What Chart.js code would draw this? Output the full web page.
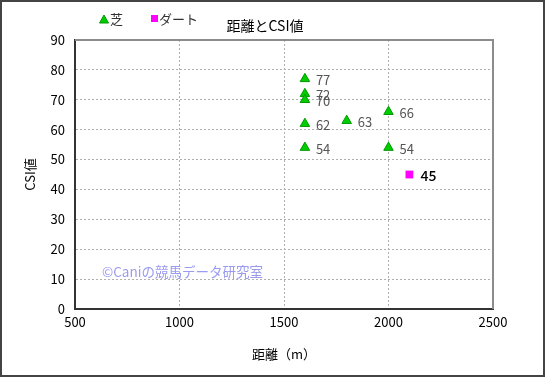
<!DOCTYPE html>
<html>
<head>
<meta charset="utf-8">
<script src="https://cdn.jsdelivr.net/npm/chart.js@4.4.0/dist/chart.umd.min.js"></script>
<style>
  html, body { margin: 0; padding: 0; background: #fff; }
  #wrap { width: 545px; height: 377px; box-sizing: border-box; border: 2px solid #444; background: #fff; }
  #wrap canvas { display: block; }
</style>
</head>
<body>
<div id="wrap"><canvas id="csiChart" width="541" height="373"></canvas></div>
<script>
// データ
const seriesNames = ['芝', 'ダート'];
const turfDist = [1600, 1600, 1600, 1600, 1600, 1800, 2000, 2000];
const turfCsi  = [77, 72, 70, 62, 54, 63, 66, 54];
const dirtDist = [2100];
const dirtCsi  = [45];
const xTicks = [500, 1000, 1500, 2000, 2500];
const yTicks = [0, 10, 20, 30, 40, 50, 60, 70, 80, 90];

const FONT = "'Noto Sans CJK JP', 'Liberation Sans', sans-serif";
const toPoints = (xs, ys) => xs.map((x, i) => ({ x: x, y: ys[i] }));

// 凡例・タイトル・値ラベル・透かし
const decoPlugin = {
    id: 'deco',
    afterDatasetsDraw(chart) {
        const ctx = chart.ctx;
        const area = chart.chartArea;
        ctx.save();

        // 枠（上・右）
        ctx.strokeStyle = '#8c8c8c';
        ctx.lineWidth = 2;
        ctx.beginPath();
        ctx.moveTo(area.left, area.top);
        ctx.lineTo(area.right, area.top);
        ctx.lineTo(area.right, area.bottom);
        ctx.stroke();

        // 値ラベル
        ctx.textBaseline = 'middle';
        ctx.textAlign = 'left';
        chart.data.datasets.forEach((ds, di) => {
            const meta = chart.getDatasetMeta(di);
            meta.data.forEach((pt, i) => {
                if (di === 0) {
                    ctx.fillStyle = '#555';
                    ctx.font = '13px ' + FONT;
                } else {
                    ctx.fillStyle = '#000';
                    ctx.font = '500 14px ' + FONT;
                }
                ctx.fillText(String(ds.data[i].y), pt.x + 11, pt.y + 1);
            });
        });

        // 透かし
        ctx.fillStyle = '#9a9af0';
        ctx.font = '13.5px ' + FONT;
        ctx.fillText('©Caniの競馬データ研究室', 100, 270);

        // 凡例
        ctx.fillStyle = '#00cc00';
        ctx.strokeStyle = '#009900';
        ctx.lineWidth = 1;
        ctx.beginPath();
        ctx.moveTo(102, 13); ctx.lineTo(106.5, 21); ctx.lineTo(97.5, 21); ctx.closePath();
        ctx.fill(); ctx.stroke();
        ctx.fillStyle = '#ff00ff';
        ctx.fillRect(149, 13, 7, 7);
        ctx.fillStyle = '#333';
        ctx.font = '13px ' + FONT;
        ctx.fillText(seriesNames[0], 108, 17);
        ctx.fillText(seriesNames[1], 157, 17);

        // タイトル
        ctx.fillStyle = '#000';
        ctx.font = '14px ' + FONT;
        ctx.textAlign = 'center';
        ctx.fillText('距離とCSI値', 263, 24);
        ctx.restore();
    }
};

new Chart(document.getElementById('csiChart'), {
    type: 'scatter',
    data: {
        datasets: [{
            label: seriesNames[0],
            data: toPoints(turfDist, turfCsi),
            pointStyle: 'triangle',
            pointRadius: 5.5,
            pointHoverRadius: 5.5,
            backgroundColor: '#00cc00',
            borderColor: '#009900',
            borderWidth: 1
        }, {
            label: seriesNames[1],
            data: toPoints(dirtDist, dirtCsi),
            pointStyle: 'rect',
            pointRadius: 5.5,
            pointHoverRadius: 5.5,
            backgroundColor: '#ff00ff',
            borderColor: '#ff00ff',
            borderWidth: 0
        }]
    },
    options: {
        responsive: false,
        animation: false,
        layout: { padding: { left: 0, right: 50, top: 38, bottom: 0 } },
        plugins: {
            legend: { display: false },
            title: { display: false },
            tooltip: { enabled: false }
        },
        scales: {
            x: {
                type: 'linear',
                min: 500, max: 2500,
                afterBuildTicks: (s) => { s.ticks = xTicks.map(v => ({ value: v })); },
                afterFit: (s) => { s.height = 66; },
                ticks: { color: '#000', font: { family: FONT, size: 13 }, padding: 5, maxRotation: 0, callback: (v) => String(v) },
                grid: { color: '#b0b0b0', drawTicks: false, lineWidth: 1 },
                border: { color: '#333', width: 2, dash: [2, 2] },
                title: { display: true, text: '距離（m）', color: '#000', font: { family: FONT, size: 13 }, padding: { top: 0, bottom: 13 } }
            },
            y: {
                min: 0, max: 90,
                afterBuildTicks: (s) => { s.ticks = yTicks.map(v => ({ value: v })); },
                afterFit: (s) => { s.width = 73; },
                ticks: { color: '#000', font: { family: FONT, size: 13 }, padding: 10, callback: (v) => String(v) },
                grid: { color: '#b0b0b0', drawTicks: false, lineWidth: 1 },
                border: { color: '#333', width: 2, dash: [2, 2] },
                title: { display: true, text: 'CSI値', color: '#000', font: { family: FONT, size: 13 }, padding: { top: 20, bottom: 0 } }
            }
        }
    },
    plugins: [decoPlugin]
});
</script>
</body>
</html>
